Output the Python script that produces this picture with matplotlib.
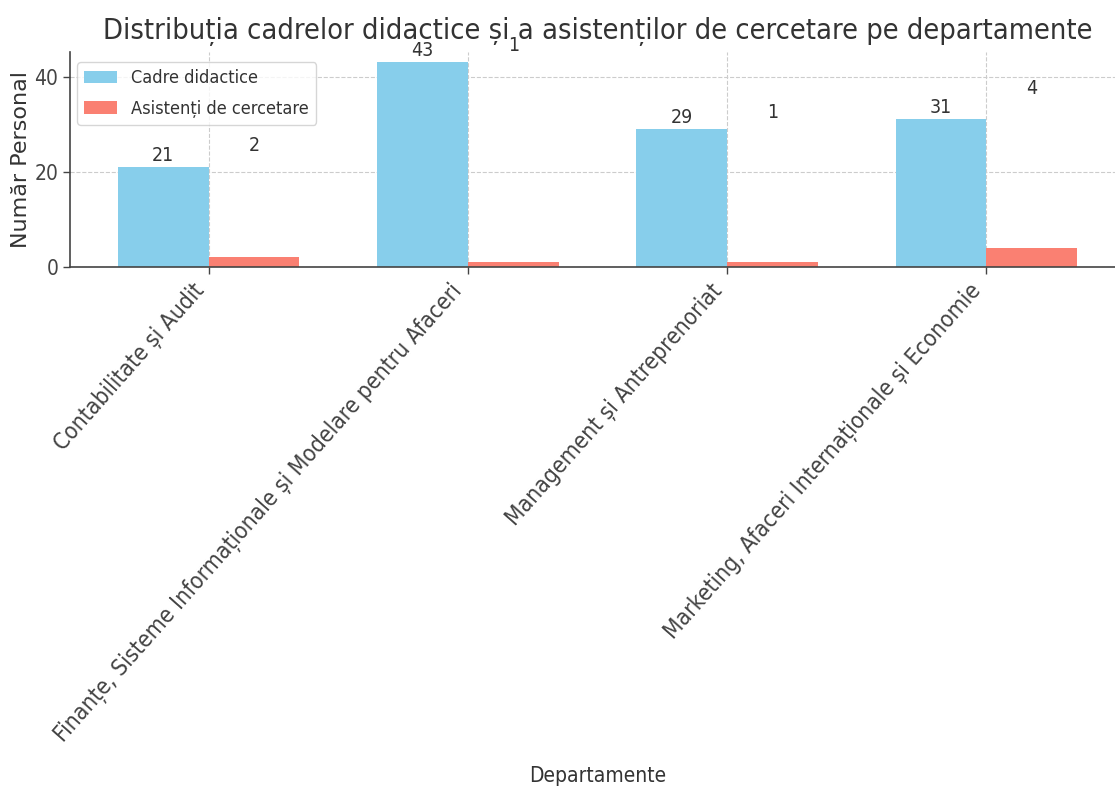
import matplotlib
matplotlib.use("Agg")
import matplotlib.pyplot as plt
import numpy as np

departamente = [
    "Contabilitate și Audit",
    "Finanțe, Sisteme Informaționale și Modelare pentru Afaceri",
    "Management și Antreprenoriat",
    "Marketing, Afaceri Internaționale și Economie",
]
cadre_didactice = [21, 43, 29, 31]
asistenti_cercetare = [2, 1, 1, 4]

FAM = "DejaVu Sans"
COND = dict(family=FAM, fontstretch="condensed")
TXT = "#333333"

fig = plt.figure(figsize=(11.15, 7.86), dpi=100)
ax = fig.add_axes([70 / 1115, 1 - 267 / 786, (1125 - 70) / 1115, (267 - 52) / 786])

x = np.arange(len(departamente))
w = 0.35
ax.bar(x - w / 2, cadre_didactice, w, color="#87CEEB", label="Cadre didactice", zorder=2)
ax.bar(x + w / 2, asistenti_cercetare, w, color="#FA8072", label="Asistenți de cercetare", zorder=2)

# value labels (red labels sit above the stacked height, as in the reference)
for xi, v in zip(x, cadre_didactice):
    ax.annotate(f"{v}", (xi - w / 2, v), xytext=(0, 1.5), textcoords="offset points",
                ha="center", va="bottom", fontsize=14, color=TXT, **COND)
for xi, v, base in zip(x, asistenti_cercetare, cadre_didactice):
    ax.annotate(f"{v}", (xi + w / 2, base + v), xytext=(0, 1.5), textcoords="offset points",
                ha="center", va="bottom", fontsize=14, color=TXT, **COND)

ax.set_xlim(-0.535, 3.535)
ax.set_ylim(0, 45.15)
ax.set_yticks([0, 20, 40])
ax.set_xticks(x)
ax.set_xticklabels(departamente, rotation=48.5, ha="right",
                   fontsize=16.4, color=TXT, **COND)
for lab in ax.get_yticklabels():
    lab.set_fontsize(15)
    lab.set_fontstretch("condensed")
    lab.set_color(TXT)

ax.grid(True, linestyle="--", color="#cccccc", linewidth=0.8, zorder=0)
ax.set_axisbelow(True)
for s in ["top", "right"]:
    ax.spines[s].set_visible(False)
for s in ["left", "bottom"]:
    ax.spines[s].set_color("#444444")
    ax.spines[s].set_linewidth(1.2)
ax.tick_params(axis="both", colors="#444444", length=5, width=1.0)
ax.tick_params(axis="x", pad=4)

ax.set_ylabel("Număr Personal", fontsize=16, color=TXT, family=FAM)
ax.yaxis.set_label_coords(-0.037, 0.5)
ax.set_xlabel("Departamente", fontsize=15, color=TXT, **COND)
ax.xaxis.set_label_coords(0.5, -2.32)
ax.set_title("Distribuția cadrelor didactice și a asistenților de cercetare pe departamente",
             fontsize=20.8, color=TXT, pad=9, **COND)

leg = ax.legend(loc="upper left", bbox_to_anchor=(7 / 1055, 1 - 10 / 215),
                prop=dict(family=FAM, stretch="condensed", size=13),
                frameon=True, fancybox=True, framealpha=0.8, edgecolor="#cccccc",
                borderaxespad=0.0, handlelength=1.8, labelspacing=0.7)
for t in leg.get_texts():
    t.set_color(TXT)

fig.savefig("out.png", dpi=100)
